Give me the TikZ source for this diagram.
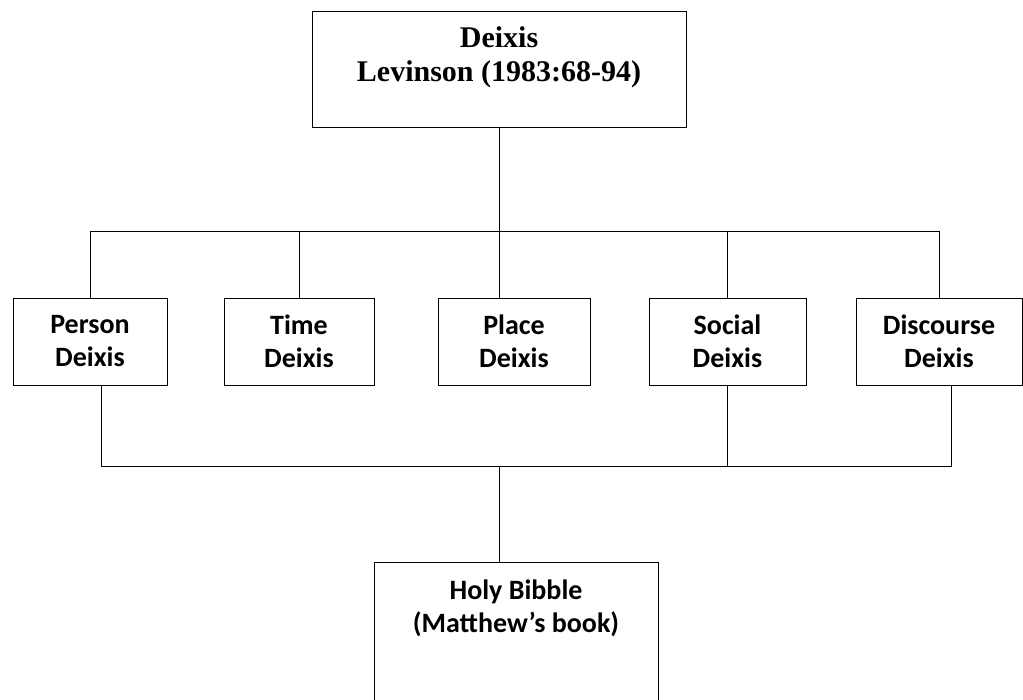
\documentclass[tikz,border=0pt]{standalone}
\usepackage{fontspec}
\setmainfont{Carlito}
\newfontfamily\timesbf{Liberation Serif}[BoldFont={Liberation Serif Bold}]
\usetikzlibrary{calc}
\newcommand\lbl{\bfseries\fontsize{28}{33}\selectfont}

\begin{document}
\begin{tikzpicture}[thick,x=1pt,y=-1pt]
\tikzset{box/.style={draw=black,rectangle,inner sep=0pt}}
\tikzset{boxtext/.style={align=center,inner sep=0pt,font=\lbl}}
\useasboundingbox (0,0) rectangle (1023,700);

\node[box,minimum width=374,minimum height=116](deixis)at(499,69){};
\node[boxtext,font=\timesbf\bfseries\fontsize{30}{34}\selectfont](deixistext)at(499,57){Deixis\\Levinson (1983:68-94)};

\foreach \name/\x/\w/\txt in {person/90/154/Person,time/299/150/Time,place/514/152/Place,social/727.5/157/Social,discourse/939/166/Discourse}
  \node[box,boxtext,minimum width=\w,minimum height=87](\name)at(\x,341.5){\txt\\Deixis};

\node[box,minimum width=284,minimum height=198](bible)at(516,661){};
\node[boxtext](bibletext)at(516,608){Holy Bibble\\(Matthew’s book)};

\coordinate(upbus)at(499,231);
\coordinate(lowbus)at(499,466);

\draw(deixis.south)--(deixis.south |- place.north);
\draw(person.north)|-(discourse.north |- upbus)--(discourse.north);
\foreach \point in {time,social}\draw(\point.north)--(\point.north |- upbus);

\draw([xshift=11]person.south)|-([xshift=12]discourse.south |- lowbus)--([xshift=12]discourse.south);
\draw(social.south)--(social.south |- lowbus);
\draw(lowbus)--(lowbus |- bible.north);
\end{tikzpicture}
\end{document}
